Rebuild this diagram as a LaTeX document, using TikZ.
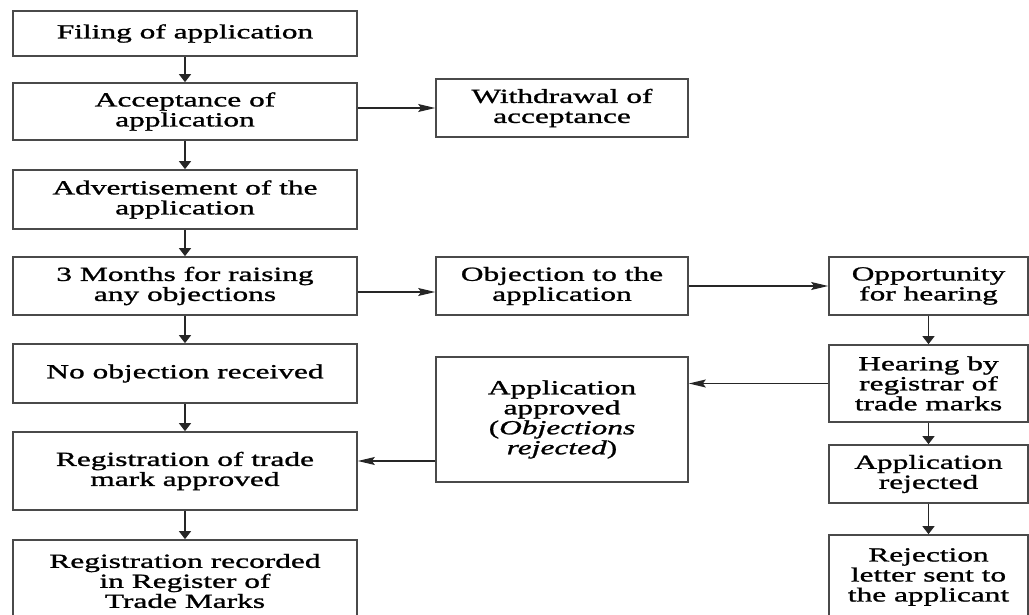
\documentclass[tikz,border=0pt]{standalone}
\usepackage{fontspec}
\setmainfont[FakeStretch=1.57,FakeBold=1.2]{Liberation Serif}
\usetikzlibrary{arrows.meta}
\definecolor{boxline}{HTML}{4A4A4A}
\definecolor{conn}{HTML}{262626}
\begin{document}
\begin{tikzpicture}[x=1pt,y=-1pt,
  box/.style={draw=boxline, line width=1.7pt, fill=white, align=center, inner sep=0pt,
    font=\fontsize{20}{20}\selectfont},
  down/.style={draw=conn, line width=1.3pt, -{Triangle[length=8pt,width=12pt]}},
  side/.style={draw=conn, line width=1.3pt, -{Stealth[length=17pt,width=8pt,inset=3pt]}}]
\useasboundingbox (0,0) rectangle (1029,615);
\clip (0,0) rectangle (1029,615);
% left column (x 13..357)
\node[box, minimum width=344pt, minimum height=45pt] (filing) at (185,33.5) {Filing of application};
\node[box, minimum width=344pt, minimum height=57pt] (accept) at (185,111.5) {Acceptance of\\application};
\node[box, minimum width=344pt, minimum height=59pt] (advert) at (185,199.5) {Advertisement of the\\application};
\node[box, minimum width=344pt, minimum height=58pt] (months) at (185,286) {3 Months for raising\\any objections};
\node[box, minimum width=344pt, minimum height=59pt] (noobj) at (185,373.5) {No objection received};
\node[box, minimum width=344pt, minimum height=78pt] (regapp) at (185,471) {Registration of trade\\mark approved};
\node[box, minimum width=344pt, minimum height=82pt] (regrec) at (185,581) {Registration recorded\\in Register of\\Trade Marks};
% middle column (x 436..688)
\node[box, minimum width=252pt, minimum height=58pt] (withdraw) at (562,108) {Withdrawal of\\acceptance};
\node[box, minimum width=252pt, minimum height=58pt] (objection) at (562,286) {Objection to the\\application};
\node[box, minimum width=252pt, minimum height=125pt] (approved) at (562,419.5) {Application\\approved\\(\textit{Objections}\\\textit{rejected})};
% right column (x 829..1028)
\node[box, minimum width=199pt, minimum height=58pt] (opport) at (928.5,286) {Opportunity\\for hearing};
\node[box, minimum width=199pt, minimum height=77pt] (hearing) at (928.5,383.5) {Hearing by\\registrar of\\trade marks};
\node[box, minimum width=199pt, minimum height=58pt] (rejected) at (928.5,474) {Application\\rejected};
\node[box, minimum width=199pt, minimum height=84pt] (letter) at (928.5,577) {Rejection\\letter sent to\\the applicant};
% vertical connectors
\draw[down] (filing) -- (accept);
\draw[down] (accept) -- (advert);
\draw[down] (advert) -- (months);
\draw[down] (months) -- (noobj);
\draw[down] (noobj) -- (regapp);
\draw[down] (regapp) -- (regrec);
\draw[down] (opport) -- (hearing);
\draw[down] (hearing) -- (rejected);
\draw[down] (rejected) -- (letter);
% horizontal connectors
\draw[side] (accept.east |- withdraw.west) -- (withdraw.west);
\draw[side] ([yshift=-6pt]months.east) -- ([yshift=-6pt]objection.west);
\draw[side] (objection.east) -- (opport.west);
\draw[side] (hearing.west) -- (approved.east |- hearing.west);
\coordinate (approw) at (0,461);
\draw[side] (approved.west |- approw) -- (regapp.east |- approw);
\end{tikzpicture}
\end{document}
